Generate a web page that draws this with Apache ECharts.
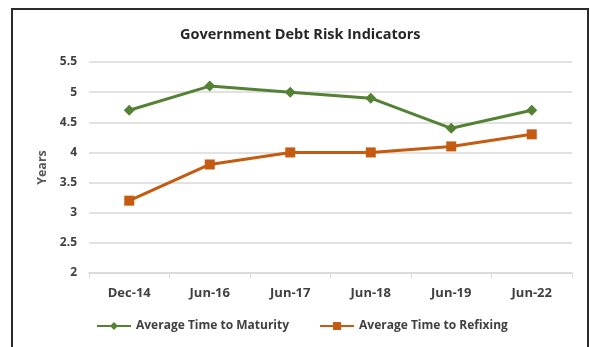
<!DOCTYPE html>
<html>
<head>
<meta charset="utf-8">
<script src="https://cdn.jsdelivr.net/npm/echarts@6/dist/echarts.min.js"></script>
<style>
  html, body { margin: 0; padding: 0; background: #fff; }
  #chart { width: 590px; height: 347px; }
</style>
</head>
<body>
<div id="chart"></div>
<script>
// Reporting periods along the horizontal axis
const periods = ['Dec-14', 'Jun-16', 'Jun-17', 'Jun-18', 'Jun-19', 'Jun-22'];
// Average time to maturity (years)
const timeToMaturity = [4.7, 5.1, 5.0, 4.9, 4.4, 4.7];
// Average time to refixing (years)
const timeToRefixing = [3.2, 3.8, 4.0, 4.0, 4.1, 4.3];

const FONT = '"Open Sans", "Liberation Sans", sans-serif';
const TEXT = '#404040';

const chart = echarts.init(document.getElementById('chart'), null, { renderer: 'canvas' });
chart.setOption({
  backgroundColor: '#ffffff',
  animation: false,
  graphic: [{
    type: 'rect',
    shape: { x: 12, y: 9, width: 576, height: 350 },
    style: { fill: 'none', stroke: '#2b2b2b', lineWidth: 2 },
    silent: true
  }],
  title: {
    text: 'Government Debt Risk Indicators',
    left: 175,
    top: 22,
    textStyle: { fontFamily: FONT, fontSize: 14.5, fontWeight: 'bold', color: '#262626' }
  },
  legend: {
    bottom: 10,
    left: 91,
    itemGap: 30,
    itemWidth: 34,
    itemHeight: 10,
    textStyle: { fontFamily: FONT, fontSize: 12, fontWeight: 'bold', color: TEXT },
    data: ['Average Time to Maturity', 'Average Time to Refixing']
  },
  grid: { left: 89, right: 18, top: 62, bottom: 74 },
  xAxis: {
    type: 'category',
    data: periods,
    boundaryGap: true,
    axisLine: { lineStyle: { color: '#d9d9d9', width: 1.5 } },
    axisTick: { show: true, length: 5, lineStyle: { color: '#d9d9d9' } },
    axisLabel: { fontFamily: FONT, fontSize: 13, fontWeight: 'bold', color: TEXT, margin: 14 }
  },
  yAxis: {
    type: 'value',
    min: 2,
    max: 5.5,
    interval: 0.5,
    name: 'Years',
    nameLocation: 'middle',
    nameGap: 34,
    nameTextStyle: { fontFamily: FONT, fontSize: 12.5, fontWeight: 'bold', color: '#595959' },
    axisLine: { show: false },
    axisTick: { show: false },
    splitLine: { lineStyle: { color: '#d9d9d9', width: 1.5 } },
    axisLabel: { fontFamily: FONT, fontSize: 12, fontWeight: 'bold', color: TEXT, margin: 12 }
  },
  series: [
    {
      name: 'Average Time to Maturity',
      type: 'line',
      data: timeToMaturity,
      symbol: 'diamond',
      symbolSize: 11,
      lineStyle: { color: '#548235', width: 3 },
      itemStyle: { color: '#548235' }
    },
    {
      name: 'Average Time to Refixing',
      type: 'line',
      data: timeToRefixing,
      symbol: 'rect',
      symbolSize: 10,
      lineStyle: { color: '#c55a11', width: 3 },
      itemStyle: { color: '#c55a11' }
    }
  ]
});
</script>
</body>
</html>
